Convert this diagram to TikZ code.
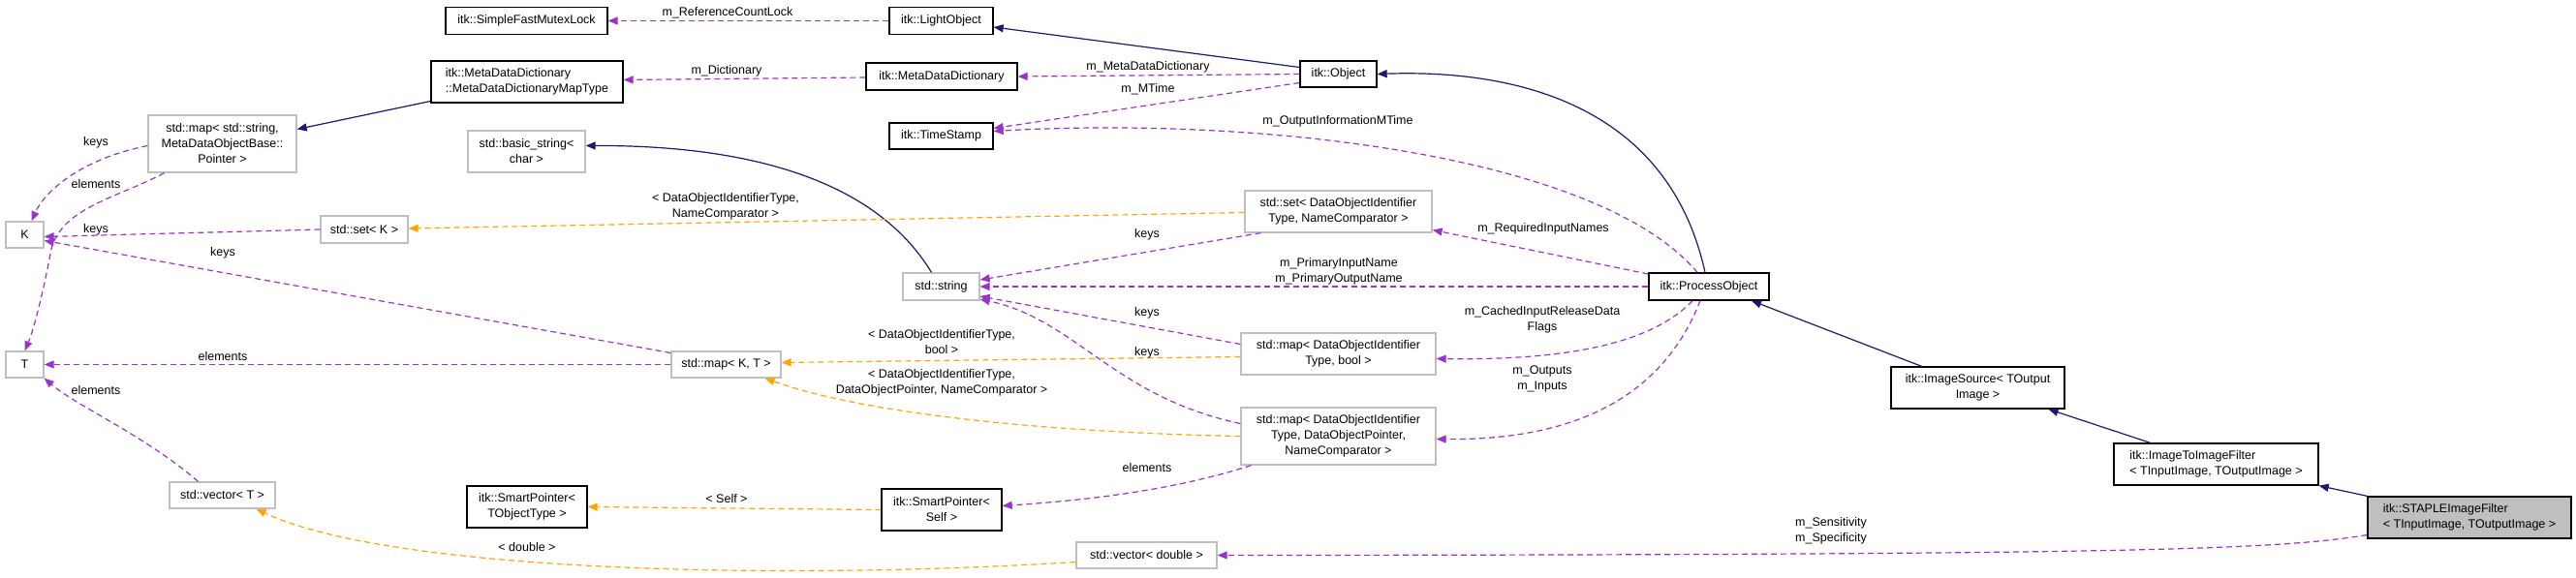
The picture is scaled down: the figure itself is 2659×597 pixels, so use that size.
\documentclass[tikz,border=0pt]{standalone}
\usepackage{fontspec}
\setmainfont{Liberation Sans}
\usetikzlibrary{arrows.meta}
\definecolor{navy}{HTML}{191970}
\definecolor{purp}{HTML}{9A32CD}
\definecolor{orng}{HTML}{FFA500}
\definecolor{gb}{HTML}{BFBFBF}
\begin{document}
\begin{tikzpicture}[x=1pt,y=-1pt,
 every node/.style={font=\fontsize{12.5}{16}\selectfont, inner sep=0pt},
 box/.style={draw=black, line width=1.3pt, fill=white, align=center},
 gbox/.style={draw=gb, line width=1.3pt, fill=white, align=center},
 lbl/.style={align=center},
 inh/.style={draw=navy, line width=1.2pt, -{Triangle[length=10pt,width=8pt]}},
 use/.style={draw=purp, line width=1.2pt, dash pattern=on 6pt off 4pt, -{Triangle[length=10pt,width=8pt]}},
 tpl/.style={draw=orng, line width=1.2pt, dash pattern=on 6pt off 4pt, -{Triangle[length=10pt,width=8pt]}}]
\useasboundingbox (0,0) rectangle (2659,597);
% nodes
\node[box, minimum width=167, minimum height=28] (sfml) at (543.5,21.5) {itk::SimpleFastMutexLock};
\node[box, minimum width=198, minimum height=43, align=left] (mapt) at (544,84.5) {itk::MetaDataDictionary\\::MetaDataDictionaryMapType};
\node[gbox, minimum width=153, minimum height=59] (mapstr) at (229.5,148.5) {std::map\textless{} std::string,\\MetaDataObjectBase::\\Pointer \textgreater{}};
\node[gbox, minimum width=121, minimum height=43] (bstr) at (543.5,156.5) {std::basic\_string\textless{}\\char \textgreater{}};
\node[gbox, minimum width=39, minimum height=27] (K) at (25.5,242.5) {K};
\node[gbox, minimum width=90, minimum height=28] (setK) at (376,237) {std::set\textless{} K \textgreater{}};
\node[gbox, minimum width=39, minimum height=27] (T) at (25.5,376.5) {T};
\node[gbox, minimum width=113, minimum height=27] (mapKT) at (749.5,376.5) {std::map\textless{} K, T \textgreater{}};
\node[gbox, minimum width=109, minimum height=27] (vecT) at (229.5,511.5) {std::vector\textless{} T \textgreater{}};
\node[box, minimum width=124, minimum height=43] (spT) at (544,523.5) {itk::SmartPointer\textless{}\\TObjectType \textgreater{}};
\node[box, minimum width=107, minimum height=28] (LO) at (971.5,21.5) {itk::LightObject};
\node[box, minimum width=156, minimum height=28] (MDD) at (972,79) {itk::MetaDataDictionary};
\node[box, minimum width=79, minimum height=27] (Obj) at (1381.5,76.5) {itk::Object};
\node[box, minimum width=107, minimum height=27] (TS) at (971.5,140.5) {itk::TimeStamp};
\node[gbox, minimum width=193, minimum height=43] (setDO) at (1381.5,218.5) {std::set\textless{} DataObjectIdentifier\\Type, NameComparator \textgreater{}};
\node[gbox, minimum width=79, minimum height=28] (str) at (971.5,296) {std::string};
\node[gbox, minimum width=201, minimum height=43] (mapDOb) at (1381.5,365.5) {std::map\textless{} DataObjectIdentifier\\Type, bool \textgreater{}};
\node[gbox, minimum width=201, minimum height=59] (mapDOP) at (1381.5,450.5) {std::map\textless{} DataObjectIdentifier\\Type, DataObjectPointer,\\NameComparator \textgreater{}};
\node[box, minimum width=124, minimum height=43] (spSelf) at (972,526.5) {itk::SmartPointer\textless{}\\Self \textgreater{}};
\node[gbox, minimum width=145, minimum height=27] (vecD) at (1183.5,573.5) {std::vector\textless{} double \textgreater{}};
\node[box, minimum width=124, minimum height=28] (PO) at (1764,296) {itk::ProcessObject};
\node[box, minimum width=179, minimum height=43] (IS) at (2041.5,400.5) {itk::ImageSource\textless{} TOutput\\Image \textgreater{}};
\node[box, minimum width=211, minimum height=43, align=left] (I2I) at (2287.5,479.5) {itk::ImageToImageFilter\\\textless{} TInputImage, TOutputImage \textgreater{}};
\node[box, fill=gb, minimum width=210, minimum height=43, align=left] (ST) at (2549,534.5) {itk::STAPLEImageFilter\\\textless{} TInputImage, TOutputImage \textgreater{}};
% inheritance
\draw[inh] ([shift={(0,-7)}]Obj.west) -- ([shift={(0,6.5)}]LO.east);
\draw[inh] ([shift={(-4,0)}]PO.north) .. controls (1720,100) and (1550,72) .. (Obj.east);
\draw[inh] ([shift={(0,20)}]mapt.west) -- ([shift={(0,-15)}]mapstr.east);
\draw[inh] ([shift={(-10,0)}]str.north) .. controls (900,180) and (760,150) .. ([shift={(0,-6)}]bstr.east);
\draw[inh] ([shift={(-58,0)}]IS.north) -- ([shift={(44,0)}]PO.south);
\draw[inh] ([shift={(-68,0)}]I2I.north) -- ([shift={(73,0)}]IS.south);
\draw[inh] (ST.north west) -- (I2I.south east);
% usage
\draw[use] (LO.west) -- (sfml.east);
\draw[use] ([shift={(0,1)}]MDD.west) -- ([shift={(0,-2)}]mapt.east);
\draw[use] (Obj.west) -- (MDD.east);
\draw[use] ([shift={(0,9)}]Obj.west) -- ([shift={(0,-8)}]TS.east);
\draw[use] ([shift={(-12,0)}]PO.north) .. controls (1650,160) and (1300,120) .. ([shift={(0,-5)}]TS.east);
\draw[use] ([shift={(0,2)}]mapstr.west) .. controls (80,165) and (45,200) .. ([shift={(7,0)}]K.north);
\draw[use] ([shift={(-60,0)}]mapstr.south) .. controls (120,205) and (60,215) .. (52,262) .. controls (45,300) and (35,340) .. (T.north);
\draw[use] (setK.west) -- ([shift={(0,2)}]K.east);
\draw[use] ([shift={(0,-12)}]mapKT.west) -- ([shift={(0,6)}]K.east);
\draw[use] (mapKT.west) -- (T.east);
\draw[use] ([shift={(-25,0)}]vecT.north) .. controls (150,450) and (80,420) .. (T.south east);
\draw[use] ([shift={(-80,0)}]setDO.south) -- ([shift={(0,-7)}]str.east);
\draw[use] ([shift={(0,-13)}]PO.west) -- ([shift={(0,19)}]setDO.east);
\draw[use] (PO.west) -- (str.east);
\draw[use] ([shift={(0,-10)}]mapDOb.west) -- ([shift={(0,10)}]str.east);
\draw[use] ([shift={(0,-13)}]mapDOP.west) .. controls (1150,410) and (1110,330) .. ([shift={(0,13)}]str.east);
\draw[use] ([shift={(-17,0)}]PO.south) .. controls (1700,360) and (1600,372) .. ([shift={(0,5)}]mapDOb.east);
\draw[use] ([shift={(-9,0)}]PO.south) .. controls (1720,400) and (1640,455) .. ([shift={(0,3)}]mapDOP.east);
\draw[use] ([shift={(-90,0)}]mapDOP.south) .. controls (1200,510) and (1100,518) .. ([shift={(0,-4)}]spSelf.east);
\draw[use] ([shift={(0,18)}]ST.west) .. controls (2350,568) and (2200,573) .. (vecD.east);
% templates
\draw[tpl] ([shift={(0,1)}]setDO.west) -- ([shift={(0,-1)}]setK.east);
\draw[tpl] ([shift={(0,3)}]mapDOb.west) -- ([shift={(0,-2)}]mapKT.east);
\draw[tpl] (mapDOP.west) .. controls (1100,447) and (900,430) .. ([shift={(40,0)}]mapKT.south);
\draw[tpl] (spSelf.west) -- (spT.east);
\draw[tpl] ([shift={(0,7)}]vecD.west) .. controls (800,600) and (400,590) .. ([shift={(35,0)}]vecT.south);
% labels
\node[lbl] (l1) at (751,13) {m\_ReferenceCountLock};
\node[lbl] (l2) at (750,73) {m\_Dictionary};
\node[lbl] (l3) at (1185,69) {m\_MetaDataDictionary};
\node[lbl] (l4) at (1185,92) {m\_MTime};
\node[lbl] (l5) at (1381,125) {m\_OutputInformationMTime};
\node[lbl] (l6) at (99,147) {keys};
\node[lbl] (l7) at (99,190) {elements};
\node[lbl] (l8) at (99,237) {keys};
\node[lbl] (l9) at (230,261) {keys};
\node[lbl] (l10) at (230,368) {elements};
\node[lbl] (l11) at (99,403) {elements};
\node[lbl] (l12) at (749,213) {\textless{} DataObjectIdentifierType,\\NameComparator \textgreater{}};
\node[lbl] (l13) at (1184,242) {keys};
\node[lbl] (l14) at (1593,236) {m\_RequiredInputNames};
\node[lbl] (l15) at (1382,280) {m\_PrimaryInputName\\m\_PrimaryOutputName};
\node[lbl] (l16) at (1184,323) {keys};
\node[lbl] (l17) at (972,353) {\textless{} DataObjectIdentifierType,\\bool \textgreater{}};
\node[lbl] (l18) at (1184,364) {keys};
\node[lbl] (l19) at (972,395) {\textless{} DataObjectIdentifierType,\\DataObjectPointer, NameComparator \textgreater{}};
\node[lbl] (l20) at (1592,330) {m\_CachedInputReleaseData\\Flags};
\node[lbl] (l21) at (1592,391) {m\_Outputs\\m\_Inputs};
\node[lbl] (l22) at (1184,483) {elements};
\node[lbl] (l23) at (750,515) {\textless{} Self \textgreater{}};
\node[lbl] (l24) at (544,565) {\textless{} double \textgreater{}};
\node[lbl] (l25) at (1890,548) {m\_Sensitivity\\m\_Specificity};
\end{tikzpicture}
\end{document}
